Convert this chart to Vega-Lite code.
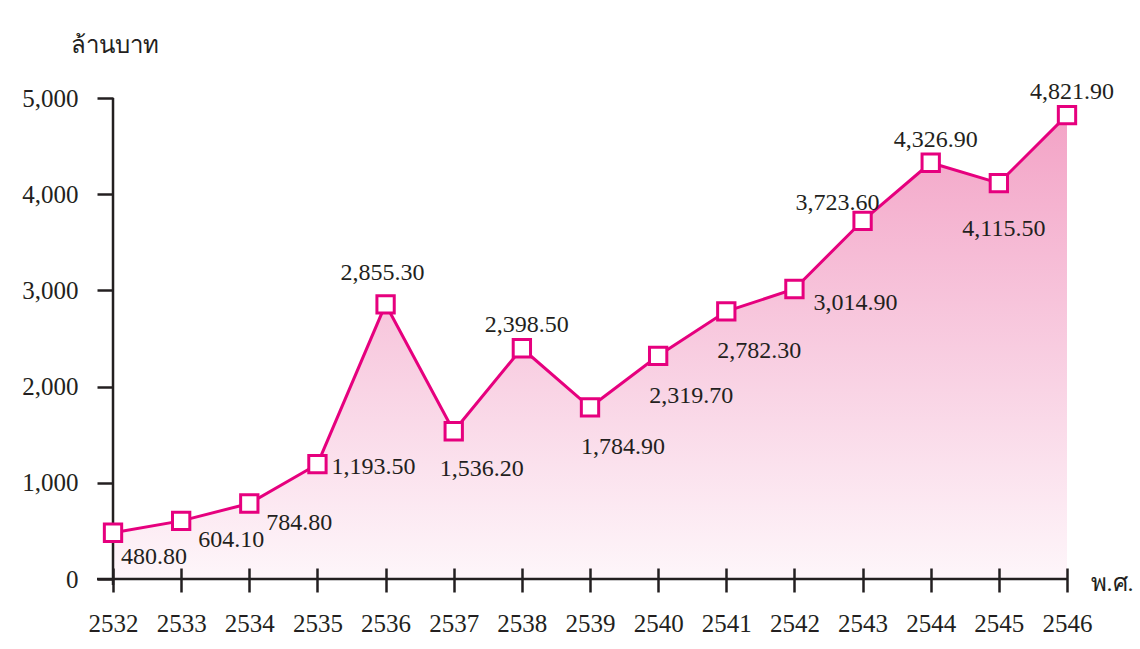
{
  "$schema": "https://vega.github.io/schema/vega-lite/v6.json",
  "width": 970,
  "height": 481,
  "autosize": {"type": "none"},
  "padding": {"left": 97, "top": 98, "right": 73, "bottom": 70},
  "background": "white",
  "config": {"view": {"stroke": null}, "font": "'Liberation Serif', 'DejaVu Serif', serif"},
  "data": {"values": [
    {"year": 2532, "value": 480.8},
    {"year": 2533, "value": 604.1},
    {"year": 2534, "value": 784.8},
    {"year": 2535, "value": 1193.5},
    {"year": 2536, "value": 2855.3},
    {"year": 2537, "value": 1536.2},
    {"year": 2538, "value": 2398.5},
    {"year": 2539, "value": 1784.9},
    {"year": 2540, "value": 2319.7},
    {"year": 2541, "value": 2782.3},
    {"year": 2542, "value": 3014.9},
    {"year": 2543, "value": 3723.6},
    {"year": 2544, "value": 4326.9},
    {"year": 2545, "value": 4115.5},
    {"year": 2546, "value": 4821.9}
  ]},
  "layer": [
    {
      "mark": {"type": "area", "line": false, "fill": {"gradient": "linear", "x1": 0, "y1": 0, "x2": 0, "y2": 1, "stops": [{"offset": 0, "color": "#f3a3c6"}, {"offset": 0.5, "color": "#f8cce0"}, {"offset": 1, "color": "#fef6fa"}]}},
      "encoding": {
        "x": {"field": "year", "type": "quantitative", "scale": {"domain": [2531.765, 2546], "nice": false, "zero": false},
          "axis": {"values": [2532, 2533, 2534, 2535, 2536, 2537, 2538, 2539, 2540, 2541, 2542, 2543, 2544, 2545, 2546], "format": "d", "domain": false, "offset": -11, "tickSize": 24, "tickWidth": 2.5, "tickColor": "#231f20", "labelFontSize": 25, "labelColor": "#231f20", "labelPadding": 19, "labelFlush": false, "labelOverlap": false, "grid": false, "zindex": 1,
            "title": "พ.ศ.", "titleX": 993, "titleY": 15, "titleAlign": "left", "titleBaseline": "middle", "titleFontSize": 24, "titleFontWeight": "normal", "titleColor": "#231f20"}},
        "y": {"field": "value", "type": "quantitative", "scale": {"domain": [0, 5000], "nice": false},
          "axis": {"values": [0, 1000, 2000, 3000, 4000, 5000], "format": ",d", "domain": false, "offset": -16, "tickSize": 16, "tickWidth": 2.5, "tickColor": "#231f20", "labelFontSize": 25, "labelColor": "#231f20", "labelPadding": 19, "labelFlush": false, "labelOverlap": false, "grid": false, "zindex": 1,
            "title": "ล้านบาท", "titleAngle": 0, "titleX": -43, "titleY": -53, "titleAlign": "left", "titleBaseline": "middle", "titleFontSize": 24, "titleFontWeight": "normal", "titleColor": "#231f20"}}
      }
    },
    {
      "data": {"values": [{"b": 0}]},
      "mark": {"type": "rule", "color": "#231f20", "strokeWidth": 2.5},
      "encoding": {"y": {"datum": 0}}
    },
    {
      "data": {"values": [{"b": 0}]},
      "mark": {"type": "rule", "color": "#231f20", "strokeWidth": 2.5},
      "encoding": {"x": {"datum": 2532}, "y": {"datum": 5000}, "y2": {"datum": -62}}
    },
    {
      "mark": {"type": "line", "color": "#e6007e", "strokeWidth": 3},
      "encoding": {"x": {"field": "year", "type": "quantitative"}, "y": {"field": "value", "type": "quantitative"}}
    },
    {
      "mark": {"type": "point", "shape": "square", "filled": true, "fill": "white", "stroke": "#e6007e", "strokeWidth": 3, "size": 300, "opacity": 1},
      "encoding": {"x": {"field": "year", "type": "quantitative"}, "y": {"field": "value", "type": "quantitative"}}
    },
    {
      "transform": [{"filter": {"field": "year", "oneOf": [2537]}}],
      "mark": {"type": "text", "align": "center", "baseline": "middle", "fontSize": 24, "color": "#231f20", "dx": 28, "dy": 38},
      "encoding": {"x": {"field": "year", "type": "quantitative"}, "y": {"field": "value", "type": "quantitative"}, "text": {"field": "value", "type": "quantitative", "format": ",.2f"}}
    },
    {
      "transform": [{"filter": {"field": "year", "oneOf": [2539, 2540, 2541]}}],
      "mark": {"type": "text", "align": "center", "baseline": "middle", "fontSize": 24, "color": "#231f20", "dx": 33, "dy": 40},
      "encoding": {"x": {"field": "year", "type": "quantitative"}, "y": {"field": "value", "type": "quantitative"}, "text": {"field": "value", "type": "quantitative", "format": ",.2f"}}
    },
    {
      "transform": [{"filter": {"field": "year", "oneOf": [2532]}}],
      "mark": {"type": "text", "align": "center", "baseline": "middle", "fontSize": 24, "color": "#231f20", "dx": 41, "dy": 24},
      "encoding": {"x": {"field": "year", "type": "quantitative"}, "y": {"field": "value", "type": "quantitative"}, "text": {"field": "value", "type": "quantitative", "format": ",.2f"}}
    },
    {
      "transform": [{"filter": {"field": "year", "oneOf": [2533, 2534]}}],
      "mark": {"type": "text", "align": "center", "baseline": "middle", "fontSize": 24, "color": "#231f20", "dx": 50, "dy": 19},
      "encoding": {"x": {"field": "year", "type": "quantitative"}, "y": {"field": "value", "type": "quantitative"}, "text": {"field": "value", "type": "quantitative", "format": ",.2f"}}
    },
    {
      "transform": [{"filter": {"field": "year", "oneOf": [2535]}}],
      "mark": {"type": "text", "align": "center", "baseline": "middle", "fontSize": 24, "color": "#231f20", "dx": 56, "dy": 3},
      "encoding": {"x": {"field": "year", "type": "quantitative"}, "y": {"field": "value", "type": "quantitative"}, "text": {"field": "value", "type": "quantitative", "format": ",.2f"}}
    },
    {
      "transform": [{"filter": {"field": "year", "oneOf": [2542]}}],
      "mark": {"type": "text", "align": "center", "baseline": "middle", "fontSize": 24, "color": "#231f20", "dx": 61, "dy": 14},
      "encoding": {"x": {"field": "year", "type": "quantitative"}, "y": {"field": "value", "type": "quantitative"}, "text": {"field": "value", "type": "quantitative", "format": ",.2f"}}
    },
    {
      "transform": [{"filter": {"field": "year", "oneOf": [2536]}}],
      "mark": {"type": "text", "align": "center", "baseline": "middle", "fontSize": 24, "color": "#231f20", "dx": -3, "dy": -31},
      "encoding": {"x": {"field": "year", "type": "quantitative"}, "y": {"field": "value", "type": "quantitative"}, "text": {"field": "value", "type": "quantitative", "format": ",.2f"}}
    },
    {
      "transform": [{"filter": {"field": "year", "oneOf": [2538, 2544, 2546]}}],
      "mark": {"type": "text", "align": "center", "baseline": "middle", "fontSize": 24, "color": "#231f20", "dx": 5, "dy": -23},
      "encoding": {"x": {"field": "year", "type": "quantitative"}, "y": {"field": "value", "type": "quantitative"}, "text": {"field": "value", "type": "quantitative", "format": ",.2f"}}
    },
    {
      "transform": [{"filter": {"field": "year", "oneOf": [2543]}}],
      "mark": {"type": "text", "align": "center", "baseline": "middle", "fontSize": 24, "color": "#231f20", "dx": -25, "dy": -18},
      "encoding": {"x": {"field": "year", "type": "quantitative"}, "y": {"field": "value", "type": "quantitative"}, "text": {"field": "value", "type": "quantitative", "format": ",.2f"}}
    },
    {
      "transform": [{"filter": {"field": "year", "oneOf": [2545]}}],
      "mark": {"type": "text", "align": "center", "baseline": "middle", "fontSize": 24, "color": "#231f20", "dx": 5, "dy": 46},
      "encoding": {"x": {"field": "year", "type": "quantitative"}, "y": {"field": "value", "type": "quantitative"}, "text": {"field": "value", "type": "quantitative", "format": ",.2f"}}
    }
  ]
}
